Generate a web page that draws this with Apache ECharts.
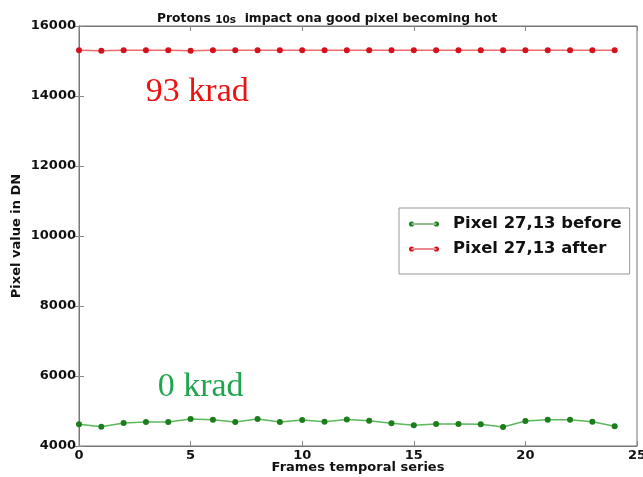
<!DOCTYPE html>
<html><head><meta charset="utf-8">
<script src="https://cdn.jsdelivr.net/npm/echarts@6/dist/echarts.min.js"></script>
<style>html,body{margin:0;padding:0;background:#fff}#c{width:643px;height:477px}</style>
</head><body><div id="c"></div>
<script>
const frames = [0,1,2,3,4,5,6,7,8,9,10,11,12,13,14,15,16,17,18,19,20,21,22,23,24];
const before = [4620,4550,4655,4685,4685,4770,4750,4685,4770,4685,4740,4695,4760,4720,4650,4590,4630,4630,4620,4545,4715,4750,4750,4695,4565];
const after = [15310,15290,15310,15310,15310,15295,15310,15310,15310,15310,15310,15310,15310,15310,15310,15310,15310,15310,15310,15310,15310,15310,15310,15310,15310];
const xTicks = [0,5,10,15,20,25];
const yTicks = [4000,6000,8000,10000,12000,14000,16000];
const F = 'DejaVu Sans';
const ICON = 'path://M0.5,5a2.5,2.5 0 1,0 5,0a2.5,2.5 0 1,0 -5,0Z M24.5,5a2.5,2.5 0 1,0 5,0a2.5,2.5 0 1,0 -5,0Z M3,4.4L27,4.4L27,5.6L3,5.6Z';
const chart = echarts.init(document.getElementById('c'));
const axisLine = {show:true, lineStyle:{color:'#777', width:1}};
const tick = {show:true, inside:true, length:5, lineStyle:{color:'#888'}};
chart.setOption({
  animation:false,
  backgroundColor:'#fff',
  title:{text:'{a|Protons }{b|10s}{a|  impact ona good pixel becoming hot}', left:152, top:7,
    textStyle:{rich:{a:{fontFamily:F,fontWeight:'bold',fontSize:12.3,color:'#111'},b:{fontFamily:F,fontSize:10.5,color:'#111',padding:[3,0,0,0]}}}},
  grid:{left:79, right:6, top:26, bottom:31, show:true, borderColor:'#777', borderWidth:1, outerBoundsMode:'none', containLabel:false},
  legend:{orient:'vertical', left:399, top:208, padding:[6,8,15,10], itemGap:5, itemWidth:30, itemHeight:10,
    icon:ICON,
    borderColor:'#999', borderWidth:1, borderRadius:0,
    textStyle:{fontFamily:F, fontWeight:'bold', fontSize:16.4, color:'#111', padding:[0,0,0,9], lineHeight:20},
    data:['Pixel 27,13 before','Pixel 27,13 after']},
  xAxis:[{type:'value', min:0, max:25, interval:5, position:'bottom',
    name:'Frames temporal series', nameLocation:'middle', nameGap:15, nameMoveOverlap:false,
    nameTextStyle:{fontFamily:F, fontWeight:'bold', fontSize:13, color:'#111'},
    axisLine:axisLine, axisTick:tick,
    axisLabel:{fontFamily:F, fontWeight:'bold', fontSize:13, color:'#111', margin:3, formatter:v=>xTicks.includes(v)?String(v):''},
    splitLine:{show:false}},
   {type:'value', min:0, max:25, interval:5, position:'top', axisLine:axisLine,
    axisTick:tick, axisLabel:{show:false}, splitLine:{show:false}}],
  yAxis:[{type:'value', min:4000, max:16000, interval:2000, position:'left',
    name:'Pixel value in DN', nameLocation:'middle', nameGap:56, nameMoveOverlap:false,
    nameTextStyle:{fontFamily:F, fontWeight:'bold', fontSize:13, color:'#111'},
    axisLine:axisLine, axisTick:tick,
    axisLabel:{fontFamily:F, fontWeight:'bold', fontSize:13, color:'#111', margin:3, formatter:v=>yTicks.includes(v)?String(v):''},
    splitLine:{show:false}},
   {type:'value', min:4000, max:16000, interval:2000, position:'right', axisLine:axisLine,
    axisTick:tick, axisLabel:{show:false}, splitLine:{show:false}}],
  series:[
    {name:'Pixel 27,13 before', type:'line', data:frames.map((f,i)=>[f,before[i]]),
     symbol:'circle', symbolSize:6, showSymbol:true,
     lineStyle:{color:'#5cb85c', width:1.5}, itemStyle:{color:'#1b7d1b'},
     markPoint:{symbol:'rect', symbolSize:0, data:[{coord:[5.45,5680], label:{show:true, position:'inside', formatter:'0 krad', fontFamily:'Liberation Serif', fontSize:34, color:'#1fa64c'}}]}},
    {name:'Pixel 27,13 after', type:'line', data:frames.map((f,i)=>[f,after[i]]),
     symbol:'circle', symbolSize:6, showSymbol:true,
     lineStyle:{color:'#f06a6a', width:1.5}, itemStyle:{color:'#d4121e'},
     markPoint:{symbol:'rect', symbolSize:0, data:[{coord:[5.3,14110], label:{show:true, position:'inside', formatter:'93 krad', fontFamily:'Liberation Serif', fontSize:34, color:'#ee1111'}}]}}
  ]
});
</script></body></html>
